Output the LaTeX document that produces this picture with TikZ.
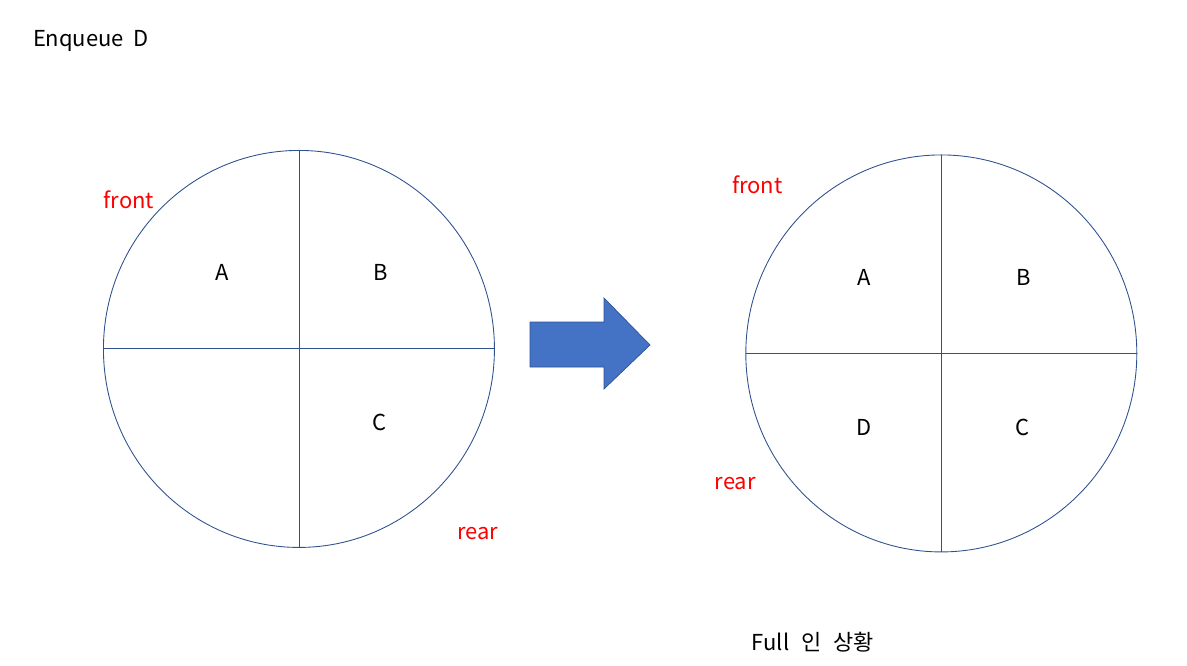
\documentclass[tikz,border=0pt]{standalone}
\usepackage{fontspec}
\setmainfont{Noto Sans CJK KR}
\definecolor{ringblue}{HTML}{2F528F}
\definecolor{arrowblue}{HTML}{4472C4}
\tikzset{
	ring/.style = {draw = ringblue, line width = 0.5pt},
	slot/.style = {font = \fontsize{12.5}{15}\selectfont},
	tag/.style = {text = red, font = \fontsize{12.5}{15}\selectfont},
}
\begin{document}
\begin{tikzpicture}[x = 0.02cm, y = -0.02cm]
	\useasboundingbox (0, 0) rectangle (1187, 666);
	\node [slot] (title) at (91, 41) {Enqueue\hspace{0.45em}D};
	% queue before
	\begin{scope} [xshift = 5.98cm, yshift = -6.98cm]
	\coordinate (q1) at (0, 0);
	\draw [ring] (q1) ellipse (195.5 and 198.5);
	\draw [ring] (-195.5, 0) -- (195.5, 0) (0, -198.5) -- (0, 198.5);
	\node [slot] (a1) at (-77, -76) {A};
	\node [slot] (b1) at (82, -76) {B};
	\node [slot] (c1) at (81, 74) {C};
	\node [tag] (front1) at (-170, -149) {front};
	\node [tag] (rear1) at (179, 185) {rear};
	\end{scope}
	% arrow
	\fill [arrowblue, draw = ringblue, line width = 0.4pt] (530, 322) -- (604, 322) -- (604, 298) -- (650, 345)
		-- (604, 389) -- (604, 367) -- (530, 367) -- cycle;
	% queue after
	\begin{scope} [xshift = 18.83cm, yshift = -7.07cm]
	\coordinate (q2) at (0, 0);
	\draw [ring] (q2) ellipse (195.5 and 198.5);
	\draw [ring] (-195.5, 0) -- (195.5, 0) (0, -198.5) -- (0, 198.5);
	\node [slot] (a2) at (-77, -76) {A};
	\node [slot] (b2) at (82, -76) {B};
	\node [slot] (d2) at (-77, 74) {D};
	\node [slot] (c2) at (81, 74) {C};
	\node [tag] (front2) at (-184, -169) {front};
	\node [tag] (rear2) at (-206, 130) {rear};
	\end{scope}
	\node [slot] (caption) at (813, 642) {Full\hspace{0.55em}인\hspace{0.55em}상황};
\end{tikzpicture}
\end{document}
